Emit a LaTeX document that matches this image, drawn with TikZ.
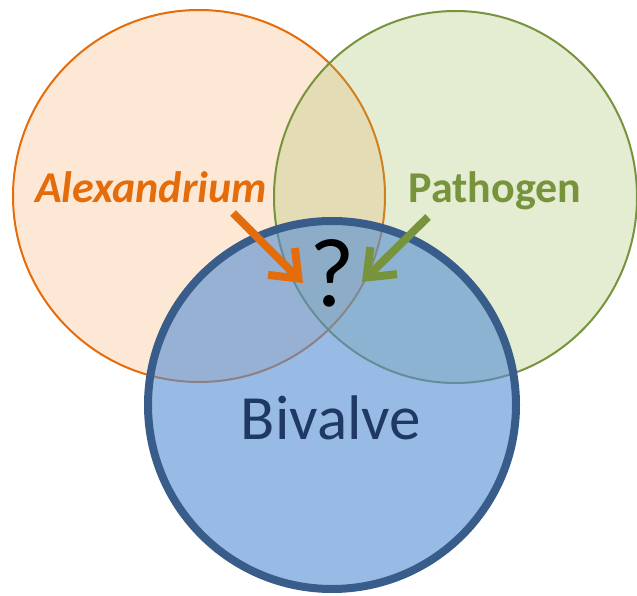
\documentclass[tikz,border=0pt]{standalone}
\usepackage{fontspec}
\setmainfont{Carlito}
\usepackage{xcolor}
\usetikzlibrary{arrows.meta,positioning}
\definecolor{alex-orange}{RGB}{228,108,10}
\definecolor{alex-fill}{RGB}{247,150,70}
\definecolor{path-green}{RGB}{119,147,60}
\definecolor{path-fill}{RGB}{155,187,89}
\definecolor{biv-blue}{RGB}{56,93,138}
\definecolor{biv-fill}{RGB}{84,141,212}
\definecolor{biv-text}{RGB}{31,56,100}

\tikzset{
  setlabel/.style={font=\fontsize{44}{52}\selectfont\bfseries, inner sep=0pt, anchor=base},
  pointer/.style={line width=8pt, -{Straight Barb[length=24pt,width=38pt]}}
}

\begin{document}
\begin{tikzpicture}[x=1pt, y=-1pt]
  \useasboundingbox (0,0) rectangle (637,596);

  % Alexandrium circle
  \draw[fill=alex-fill, fill opacity=0.22, draw=alex-orange, line width=2pt] (199,196) circle [radius=186];

  % Pathogen circle
  \draw[fill=path-fill, fill opacity=0.27, draw=path-green, line width=2pt] (455.5,197) ellipse [x radius=181.5, y radius=186];

  % Bivalve circle
  \draw[fill=biv-fill, fill opacity=0.6, draw=biv-blue, line width=8pt] (332,405) circle [radius=184];

  % labels
  \node[setlabel, text=alex-orange, font=\fontsize{44}{52}\selectfont\bfseries\itshape] (alex) at (151,203) {Alexandrium};
  \node[setlabel, text=path-green] (path) at (495,203) {Pathogen};
  \node[inner sep=0pt, anchor=base, font=\fontsize{98}{104}\selectfont] (quest) at (332,306) {?};
  \node[inner sep=0pt, anchor=base, text=biv-text, font=\fontsize{63}{72}\selectfont] (biv) at (331,439) {Bivalve};

  % arrows
  \coordinate (alextail) at (233,213);
  \coordinate (alextip) at (303,283);
  \coordinate (pathtail) at (428,217);
  \coordinate (pathtip) at (362,282);
  \draw[pointer, draw=alex-orange] (alextail) -- (alextip);
  \draw[pointer, draw=path-green] (pathtail) -- (pathtip);
\end{tikzpicture}
\end{document}
